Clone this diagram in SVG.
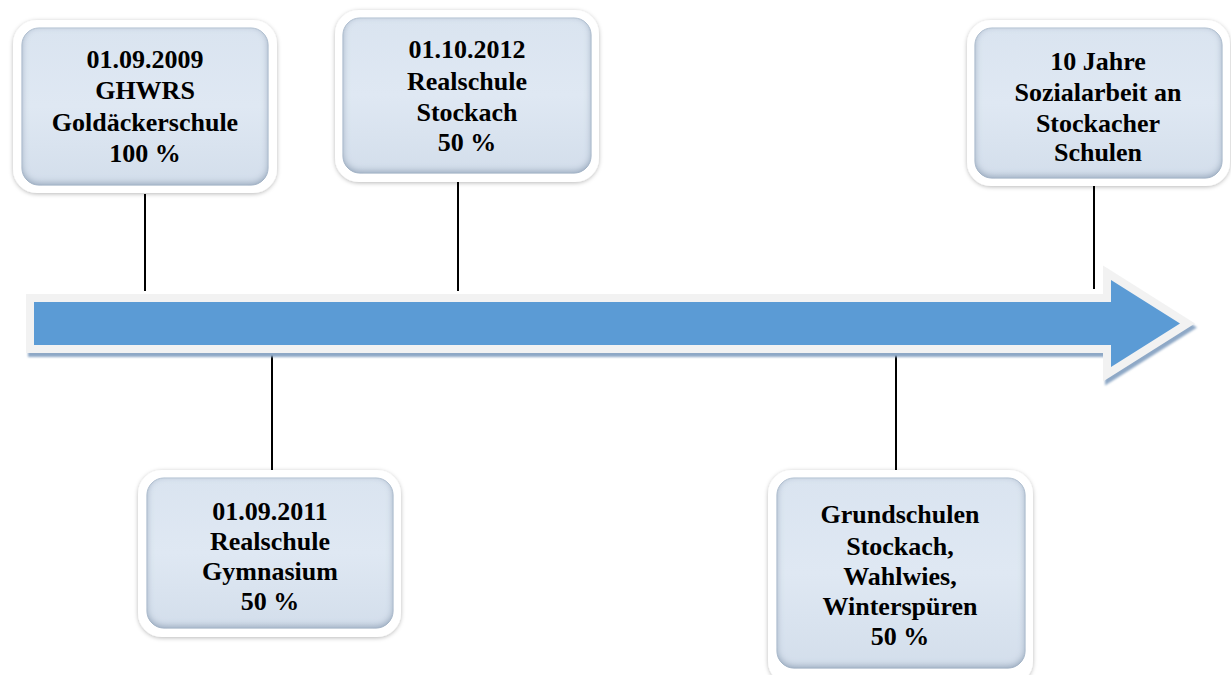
<svg xmlns="http://www.w3.org/2000/svg" width="1231" height="675" viewBox="0 0 1231 675">
<defs>
<filter id="outerShadow" x="-10%" y="-10%" width="120%" height="120%">
<feDropShadow dx="0" dy="1" stdDeviation="2" flood-color="#000" flood-opacity="0.28"/>
</filter>
<filter id="innerShadow" x="-5%" y="-5%" width="110%" height="110%">
<feFlood flood-color="#8a9db4" result="c"/>
<feComposite in="c" in2="SourceAlpha" operator="out" result="o"/>
<feOffset in="o" dy="-2" result="oo"/>
<feGaussianBlur in="oo" stdDeviation="3.5" result="b"/>
<feComposite in="b" in2="SourceAlpha" operator="in" result="s"/>
<feMerge><feMergeNode in="SourceGraphic"/><feMergeNode in="s"/></feMerge>
</filter>
<filter id="arrowShadow" x="-5%" y="-20%" width="110%" height="140%">
<feGaussianBlur stdDeviation="0.8"/>
</filter>
<linearGradient id="boxFill" x1="0" y1="0" x2="0" y2="1">
<stop offset="0" stop-color="#dae4f0"/>
<stop offset="0.5" stop-color="#dfe8f3"/>
<stop offset="1" stop-color="#d3deeb"/>
</linearGradient>
</defs>
<style>
.frame{fill:#ffffff;filter:url(#outerShadow)}
.inner{fill:url(#boxFill);stroke:#c3d0de;stroke-width:1;filter:url(#innerShadow)}
.lbl{font-family:"Liberation Serif","Times New Roman",serif;font-weight:bold;font-size:26px;fill:#000;text-anchor:middle}
.conn line{stroke:#000;stroke-width:2}
</style>
<rect width="1231" height="675" fill="#ffffff"/>

<g id="connectors" class="conn">
<line x1="145" y1="194" x2="145" y2="291"/>
<line x1="458" y1="182" x2="458" y2="291"/>
<line x1="1094" y1="185" x2="1094" y2="289"/>
<line x1="272" y1="355" x2="272" y2="470"/>
<line x1="896" y1="355" x2="896" y2="470"/>
</g>

<g id="timeline-arrow">
<path d="M34,302 H1111 V280 L1180,323.5 L1111,367 V345 H34 Z" transform="translate(2,4)" fill="#8ea8c6" stroke="#8ea8c6" stroke-width="16" stroke-linejoin="miter" stroke-miterlimit="10" filter="url(#arrowShadow)"/>
<path d="M34,302 H1111 V280 L1180,323.5 L1111,367 V345 H34 Z" fill="#5b9bd5" stroke="#f2f2f2" stroke-width="16" stroke-linejoin="miter" stroke-miterlimit="10" paint-order="stroke"/>
</g>

<g id="node-2009">
<rect class="frame" x="13" y="20" width="264" height="173" rx="24"/>
<rect class="inner" x="22" y="28" width="246" height="157" rx="17"/>
<text class="lbl" x="145" y="68">01.09.2009</text>
<text class="lbl" x="145" y="99">GHWRS</text>
<text class="lbl" x="145" y="131">Goldäckerschule</text>
<text class="lbl" x="145" y="162">100 %</text>
</g>

<g id="node-2012">
<rect class="frame" x="335" y="10" width="264" height="172" rx="24"/>
<rect class="inner" x="343" y="18" width="248" height="155" rx="17"/>
<text class="lbl" x="467" y="58">01.10.2012</text>
<text class="lbl" x="467" y="90">Realschule</text>
<text class="lbl" x="467" y="121">Stockach</text>
<text class="lbl" x="467" y="151">50 %</text>
</g>

<g id="node-10jahre">
<rect class="frame" x="967" y="20" width="263" height="166" rx="24"/>
<rect class="inner" x="975" y="28" width="247" height="150" rx="17"/>
<text class="lbl" x="1098" y="70">10 Jahre</text>
<text class="lbl" x="1098" y="101">Sozialarbeit an</text>
<text class="lbl" x="1098" y="132">Stockacher</text>
<text class="lbl" x="1098" y="161">Schulen</text>
</g>

<g id="node-2011">
<rect class="frame" x="138" y="470" width="263" height="167" rx="24"/>
<rect class="inner" x="147" y="478" width="246" height="150" rx="17"/>
<text class="lbl" x="270" y="520">01.09.2011</text>
<text class="lbl" x="270" y="550">Realschule</text>
<text class="lbl" x="270" y="580">Gymnasium</text>
<text class="lbl" x="270" y="610">50 %</text>
</g>

<g id="node-grundschulen">
<rect class="frame" x="768" y="470" width="265" height="215" rx="24"/>
<rect class="inner" x="777" y="478" width="248" height="190" rx="17"/>
<text class="lbl" x="900" y="523">Grundschulen</text>
<text class="lbl" x="900" y="555">Stockach,</text>
<text class="lbl" x="900" y="585">Wahlwies,</text>
<text class="lbl" x="900" y="615">Winterspüren</text>
<text class="lbl" x="900" y="645">50 %</text>
</g>
</svg>
